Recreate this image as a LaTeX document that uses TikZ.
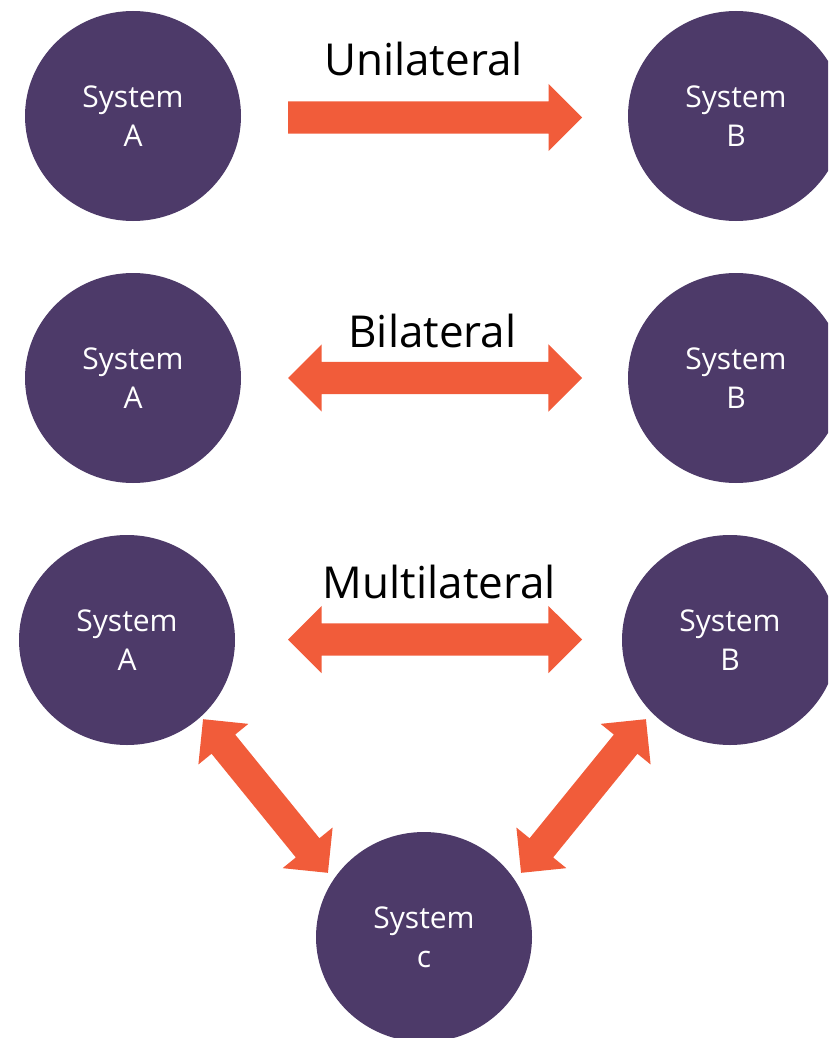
\documentclass[tikz,border=0pt]{standalone}
\usepackage{fontspec}
\setmainfont{Open Sans}
\usetikzlibrary{shapes.geometric,shapes.arrows}
\definecolor{sysc}{HTML}{4D3A69}
\definecolor{arrc}{HTML}{F15C3A}
\begin{document}
\begin{tikzpicture}[x=1pt,y=-1pt,
  sys/.style={ellipse, fill=sysc, minimum width=216pt, minimum height=210pt, inner sep=0pt,
    text=white, align=center, font=\fontsize{30}{39}\selectfont},
  lbl/.style={anchor=base, font=\fontsize{44}{50}\selectfont, inner sep=0pt},
  onearrow/.style={single arrow, fill=arrc, draw=none, inner xsep=0pt, inner ysep=16pt, minimum width=67pt,
    single arrow head extend=17.5pt, single arrow tip angle=90},
  twoarrow/.style={double arrow, fill=arrc, draw=none, inner xsep=0pt, inner ysep=16pt, minimum width=67pt,
    double arrow head extend=17.5pt, double arrow tip angle=90}]
\useasboundingbox (0,0) rectangle (828,1038);
\clip (0,0) rectangle (828,1038);
% systems
\node[sys] (a1) at (133,116) {System\\A};
\node[sys] (b1) at (736,116) {System\\B};
\node[sys] (a2) at (133,378) {System\\A};
\node[sys] (b2) at (736,378) {System\\B};
\node[sys] (a3) at (127,640) {System\\A};
\node[sys] (b3) at (730,640) {System\\B};
\node[sys] (c)  at (424,937) {System\\c};
% arrows
\node[onearrow, minimum height=294pt, anchor=tail] (uni) at (288,117.5) {};
\node[twoarrow, minimum height=294pt] (bi) at (435,378) {};
\node[twoarrow, minimum height=294pt] (multi) at (435,639.5) {};
\node[twoarrow, minimum height=198pt, minimum width=64pt, inner ysep=15pt, double arrow head extend=17pt, rotate=-50.9] (ac) at (265.5,796) {};
\node[twoarrow, minimum height=198pt, minimum width=64pt, inner ysep=15pt, double arrow head extend=17pt, rotate=50.9] (bc) at (583.5,796) {};
% labels
\node[lbl] (lu) at (423.5,76) {Unilateral};
\node[lbl] (lb) at (432.5,347) {Bilateral};
\node[lbl] (lm) at (439.5,598) {Multilateral};
\end{tikzpicture}
\end{document}
